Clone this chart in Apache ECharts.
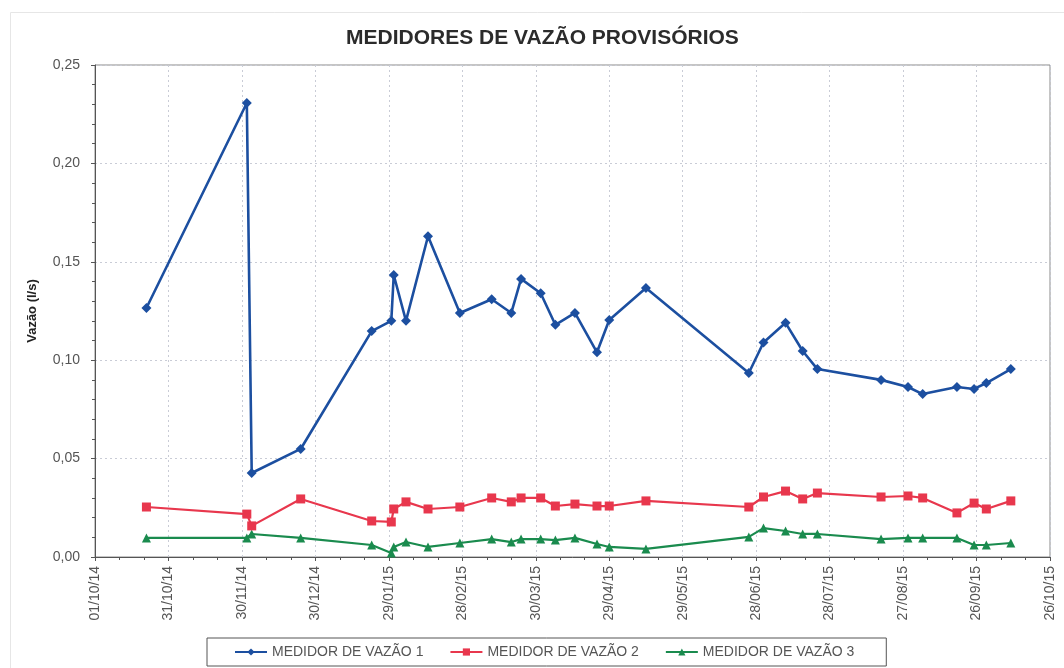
<!DOCTYPE html>
<html>
<head>
    <meta charset="utf-8" />
    <title>Medidores de vazão</title>
    <script src="https://cdn.jsdelivr.net/npm/echarts@6/dist/echarts.min.js"></script>
    <style>
        html, body { margin: 0; padding: 0; background: #fff; }
        #main { width: 1064px; height: 668px; }
    </style>
</head>
<body>
<div id="main"></div>
<script type="text/javascript">
    // datas das leituras (dd/mm/yy)
    var dates = ['22/10/14', '02/12/14', '04/12/14', '24/12/14', '22/01/15', '30/01/15', '31/01/15',
        '05/02/15', '14/02/15', '27/02/15', '12/03/15', '20/03/15', '24/03/15', '01/04/15',
        '07/04/15', '15/04/15', '24/04/15', '29/04/15', '14/05/15', '25/06/15', '01/07/15',
        '10/07/15', '17/07/15', '23/07/15', '18/08/15', '29/08/15', '04/09/15', '18/09/15',
        '25/09/15', '30/09/15', '10/10/15'];

    var medidor1 = [0.1265, 0.2307, 0.0427, 0.0549, 0.1148, 0.120, 0.1433, 0.120, 0.163, 0.124,
        0.131, 0.124, 0.1413, 0.134, 0.118, 0.124, 0.104, 0.1204, 0.1367, 0.0935, 0.109, 0.119,
        0.1047, 0.0955, 0.090, 0.0864, 0.0828, 0.0864, 0.0854, 0.0884, 0.0955];
    var medidor2 = [0.0254, 0.0218, 0.0158, 0.0295, 0.0183, 0.0178, 0.0244, 0.028, 0.0244, 0.0254,
        0.030, 0.028, 0.030, 0.030, 0.0259, 0.0269, 0.0259, 0.0259, 0.0285, 0.0254, 0.0305, 0.0335,
        0.0295, 0.0325, 0.0305, 0.031, 0.030, 0.0224, 0.0274, 0.0244, 0.0285];
    var medidor3 = [0.0097, 0.0097, 0.0117, 0.0097, 0.0061, 0.002, 0.0051, 0.0076, 0.0051, 0.0071,
        0.0091, 0.0076, 0.0091, 0.0091, 0.0086, 0.0097, 0.0066, 0.0051, 0.0041, 0.0102, 0.0147,
        0.0132, 0.0117, 0.0117, 0.0091, 0.0097, 0.0097, 0.0097, 0.0061, 0.0061, 0.0071];

    var seriesNames = ['MEDIDOR DE VAZÃO 1', 'MEDIDOR DE VAZÃO 2', 'MEDIDOR DE VAZÃO 3'];

    // eixo x em dias a partir de 01/10/14 (escala do Excel: passo de 30 dias)
    var startDate = '01/10/14';
    var endDate = '26/10/15';
    var stepDays = 30;

    var DAY = 24 * 3600 * 1000;
    function parseDate(s) {
        var p = s.split('/');
        return Date.UTC(2000 + parseInt(p[2], 10), parseInt(p[1], 10) - 1, parseInt(p[0], 10));
    }
    var t0 = parseDate(startDate);
    function dayOf(s) {
        return Math.round((parseDate(s) - t0) / DAY);
    }
    function pad(n) { return n < 10 ? '0' + n : '' + n; }
    function fmtDay(v) {
        var d = new Date(t0 + v * DAY);
        return pad(d.getUTCDate()) + '/' + pad(d.getUTCMonth() + 1) + '/' + pad(d.getUTCFullYear() % 100);
    }
    function pairs(vals) {
        var out = [];
        for (var i = 0; i < vals.length; i++) {
            out.push([dayOf(dates[i]), vals[i]]);
        }
        return out;
    }

    var myChart = echarts.init(document.getElementById('main'));
    var FONT = 'Liberation Sans, Arial, sans-serif';
    var gridLine = { show: true, lineStyle: { color: '#c9ccd6', type: [2, 3], width: 1 } };
    var axisTxt = { color: '#555', fontFamily: FONT, fontSize: 14 };

    myChart.setOption({
        backgroundColor: '#fff',
        animation: false,
        // moldura clara do gráfico
        graphic: [{
            type: 'rect',
            shape: { x: 10.5, y: 12.5, width: 1070, height: 670 },
            style: { fill: 'none', stroke: '#e6e6e6', lineWidth: 1 },
            silent: true
        }],
        title: {
            text: 'MEDIDORES DE VAZÃO PROVISÓRIOS',
            left: 346,
            top: 28,
            padding: 0,
            textStyle: {
                fontFamily: FONT,
                fontWeight: 'bold',
                fontSize: 21,
                color: '#2b2b2b'
            }
        },
        legend: {
            left: 207,
            top: 638,
            padding: [7, 32, 7, 27],
            borderColor: '#555',
            borderWidth: 1,
            itemWidth: 32,
            itemHeight: 9,
            itemGap: 26,
            data: seriesNames,
            textStyle: { color: '#555', fontFamily: FONT, fontSize: 14 }
        },
        grid: {
            left: 95,
            right: 14,
            top: 65,
            bottom: 111,
            show: true,
            borderColor: '#8a8a8a',
            borderWidth: 1
        },
        xAxis: {
            type: 'value',
            min: 0,
            max: dayOf(endDate),
            interval: stepDays,
            axisLine: { show: true, onZero: false, lineStyle: { color: '#555' } },
            axisTick: { show: true, length: 4, lineStyle: { color: '#555' } },
            minorTick: { show: true, splitNumber: 3, length: 3, lineStyle: { color: '#555' } },
            splitLine: gridLine,
            axisLabel: Object.assign({
                rotate: 90,
                margin: 9,
                formatter: function (v) { return fmtDay(v); }
            }, axisTxt)
        },
        yAxis: {
            type: 'value',
            min: 0,
            max: 0.25,
            interval: 0.05,
            name: 'Vazão (l/s)',
            nameLocation: 'middle',
            nameGap: 56,
            nameTextStyle: {
                fontFamily: FONT,
                fontWeight: 'bold',
                fontSize: 13,
                color: '#222'
            },
            axisLine: { show: true, lineStyle: { color: '#555' } },
            axisTick: { show: true, length: 4, lineStyle: { color: '#555' } },
            minorTick: { show: true, splitNumber: 5, length: 3, lineStyle: { color: '#555' } },
            splitLine: gridLine,
            axisLabel: Object.assign({
                margin: 15,
                formatter: function (v) { return v.toFixed(2).replace('.', ','); }
            }, axisTxt)
        },
        series: [
            {
                name: seriesNames[0],
                type: 'line',
                data: pairs(medidor1),
                symbol: 'diamond',
                symbolSize: 10,
                color: '#1c4fa0',
                lineStyle: { width: 2.6, color: '#1c4fa0' },
                itemStyle: { color: '#1c4fa0' },
                z: 4
            },
            {
                name: seriesNames[1],
                type: 'line',
                data: pairs(medidor2),
                symbol: 'rect',
                symbolSize: 9,
                color: '#e8374d',
                lineStyle: { width: 2.2, color: '#e8374d' },
                itemStyle: { color: '#e8374d' },
                z: 3
            },
            {
                name: seriesNames[2],
                type: 'line',
                data: pairs(medidor3),
                symbol: 'triangle',
                symbolSize: 9,
                color: '#1a8b4e',
                lineStyle: { width: 2.2, color: '#1a8b4e' },
                itemStyle: { color: '#1a8b4e' },
                z: 2
            }
        ]
    });
</script>
</body>
</html>
